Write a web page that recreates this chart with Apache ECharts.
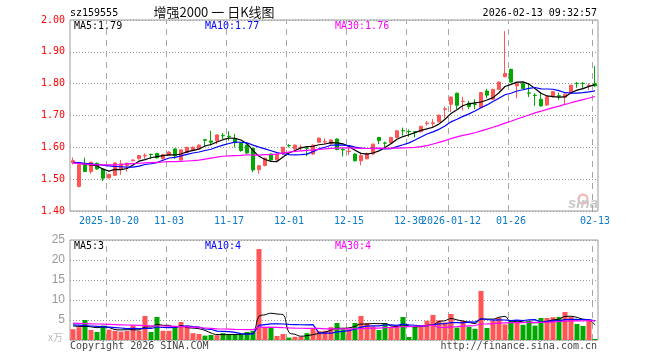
<!DOCTYPE html>
<html><head><meta charset="utf-8">
<script src="https://cdn.jsdelivr.net/npm/echarts@6/dist/echarts.min.js"></script>
<style>html,body{margin:0;padding:0;background:#fff}#c{width:660px;height:360px}</style>
</head><body><div id="c"></div>
<script>
const dates = ['2025-10-10','2025-10-13','2025-10-14','2025-10-15','2025-10-16','2025-10-17','2025-10-20','2025-10-21','2025-10-22','2025-10-23',
'2025-10-24','2025-10-27','2025-10-28','2025-10-29','2025-10-30','2025-10-31','2025-11-03','2025-11-04','2025-11-05','2025-11-06',
'2025-11-07','2025-11-10','2025-11-11','2025-11-12','2025-11-13','2025-11-14','2025-11-17','2025-11-18','2025-11-19','2025-11-20',
'2025-11-21','2025-11-24','2025-11-25','2025-11-26','2025-11-27','2025-11-28','2025-12-01','2025-12-02','2025-12-03','2025-12-04',
'2025-12-05','2025-12-08','2025-12-09','2025-12-10','2025-12-11','2025-12-12','2025-12-15','2025-12-16','2025-12-17','2025-12-18',
'2025-12-19','2025-12-22','2025-12-23','2025-12-24','2025-12-25','2025-12-26','2025-12-30','2025-12-31','2026-01-05','2026-01-06',
'2026-01-07','2026-01-08','2026-01-09','2026-01-12','2026-01-13','2026-01-14','2026-01-15','2026-01-16','2026-01-19','2026-01-20',
'2026-01-21','2026-01-22','2026-01-23','2026-01-26','2026-01-27','2026-01-28','2026-01-29','2026-01-30','2026-02-02','2026-02-03',
'2026-02-04','2026-02-05','2026-02-06','2026-02-09','2026-02-10','2026-02-11','2026-02-12','2026-02-13'];

const opens = [1.552,1.477,1.543,1.524,1.550,1.532,1.504,1.512,1.532,1.543,
1.558,1.564,1.573,1.578,1.581,1.564,1.575,1.595,1.560,1.584,
1.590,1.595,1.624,1.620,1.621,1.637,1.635,1.626,1.614,1.607,
1.597,1.530,1.543,1.579,1.560,1.579,1.606,1.595,1.599,1.598,
1.579,1.616,1.617,1.611,1.626,1.593,1.587,1.579,1.558,1.564,
1.579,1.631,1.614,1.614,1.631,1.653,1.650,1.649,1.649,1.675,
1.675,1.680,1.719,1.735,1.770,1.744,1.739,1.736,1.725,1.777,
1.751,1.782,1.822,1.845,1.793,1.800,1.771,1.764,1.751,1.733,
1.759,1.762,1.758,1.769,1.801,1.801,1.794,1.800];
const closes = [1.558,1.545,1.524,1.553,1.532,1.503,1.515,1.551,1.548,1.550,
1.560,1.574,1.575,1.577,1.567,1.577,1.585,1.574,1.592,1.600,
1.600,1.607,1.622,1.616,1.639,1.636,1.634,1.616,1.590,1.582,
1.529,1.542,1.566,1.560,1.579,1.600,1.605,1.607,1.601,1.597,
1.607,1.629,1.618,1.623,1.593,1.592,1.588,1.558,1.574,1.581,
1.610,1.621,1.613,1.631,1.652,1.652,1.649,1.648,1.666,1.676,
1.677,1.701,1.721,1.758,1.732,1.745,1.728,1.735,1.772,1.764,
1.782,1.805,1.832,1.805,1.801,1.785,1.770,1.763,1.730,1.759,
1.775,1.761,1.767,1.795,1.800,1.800,1.795,1.793];
const lows = [1.546,1.474,1.522,1.517,1.530,1.494,1.502,1.510,1.514,1.524,
1.556,1.562,1.564,1.564,1.565,1.562,1.573,1.564,1.558,1.582,
1.588,1.593,1.602,1.605,1.610,1.626,1.621,1.600,1.586,1.580,
1.522,1.517,1.540,1.557,1.558,1.577,1.600,1.593,1.590,1.572,
1.576,1.614,1.610,1.609,1.591,1.571,1.576,1.555,1.543,1.562,
1.577,1.610,1.600,1.612,1.629,1.637,1.633,1.631,1.647,1.668,
1.662,1.678,1.691,1.711,1.720,1.715,1.720,1.720,1.722,1.754,
1.749,1.780,1.820,1.803,1.754,1.783,1.758,1.730,1.728,1.730,
1.757,1.749,1.735,1.767,1.787,1.782,1.779,1.790];
const highs = [1.568,1.548,1.567,1.555,1.552,1.534,1.517,1.553,1.560,1.552,
1.563,1.576,1.581,1.580,1.582,1.579,1.588,1.597,1.594,1.602,
1.603,1.609,1.625,1.652,1.641,1.645,1.651,1.642,1.616,1.609,
1.599,1.545,1.568,1.581,1.581,1.602,1.610,1.609,1.608,1.600,
1.609,1.631,1.628,1.625,1.628,1.598,1.598,1.581,1.579,1.583,
1.612,1.633,1.618,1.633,1.654,1.662,1.656,1.651,1.668,1.683,
1.689,1.703,1.728,1.760,1.772,1.759,1.746,1.751,1.774,1.784,
1.784,1.807,1.965,1.847,1.803,1.802,1.800,1.770,1.774,1.761,
1.777,1.772,1.769,1.797,1.805,1.805,1.801,1.855];
// volume, 万手
const volumes = [2.7,3.2,5.0,2.5,2.0,3.6,2.6,2.3,2.1,2.25,
3.6,2.3,6.0,2.0,5.75,2.3,2.3,3.2,4.5,3.2,
1.7,1.5,1.1,1.25,1.2,1.7,1.5,1.3,1.3,2.0,
2.3,22.75,3.2,3.2,1.0,1.5,0.6,0.8,0.8,1.7,
2.8,2.25,2.3,3.2,4.25,2.7,2.7,4.25,6.0,4.25,
3.4,2.5,4.25,3.3,3.3,5.75,0.75,3.4,3.75,4.8,
6.25,4.9,4.4,6.5,3.1,4.8,3.3,2.8,12.25,3.0,
4.75,5.6,3.9,4.9,4.4,3.8,4.8,3.6,5.5,5.5,
5.7,5.75,7.0,5.75,4.0,3.5,5.0,0.25];

// MA values before a full window exists inside the visible range
const priceMa5Head = [1.552,1.550,1.546,1.545];
const priceMa10Head = [1.553,1.552,1.550,1.548,1.546,1.544,1.542,1.540,1.539];
const priceMa30Head = [1.551,1.549,1.547,1.546,1.545,1.545,1.545,1.545,1.546,1.548,
1.549,1.550,1.551,1.552,1.553,1.554,1.555,1.555,1.556,1.557,
1.558,1.560,1.563,1.566,1.569,1.572,1.573,1.574,1.575];
const volMa5Head = [3.5,3.4,3.4,3.3];
const volMa10Head = [3.8,3.7,3.6,3.5,3.4,3.3,3.2,3.1,3.0];
const volMa30Head = [4.2,4.15,4.1,4.05,4.0,3.95,3.9,3.85,3.8,3.75,
3.7,3.65,3.6,3.55,3.5,3.5,3.45,3.4,3.35,3.3,
3.2,3.1,3.0,2.9,2.8,2.75,2.7,2.65,2.62];

const tickDates = ['2025-10-20','2025-11-03','2025-11-17','2025-12-01','2025-12-15','2025-12-30','2026-01-12','2026-01-26','2026-02-13'];
const tickTexts = ['2025-10-20','11-03','11-17','12-01','12-15','12-30','2026-01-12','01-26','02-13'];

const priceTicks = {min:1.40, max:2.00, step:0.10};
const volTicks = {min:0, max:25, step:5};

const legendPrice = ['MA5:1.79','MA10:1.77','MA30:1.76'];
const legendVol = ['MA5:3','MA10:4','MA30:4'];

function rolling(vals, n, head){
  return vals.map((v,i)=>{
    if(i < n-1) return head[i];
    let s=0; for(let k=i-n+1;k<=i;k++) s+=vals[k];
    return +(s/n).toFixed(4);
  });
}

const RED='#ff5555', GREEN='#00a800', C5='#000000', C10='#0000ff', C30='#ff00ff';
const MONO='"DejaVu Sans Mono", monospace';

const kData = dates.map((d,i)=>[opens[i],closes[i],lows[i],highs[i]]);
const volData = volumes.map((v,i)=>({value:v,itemStyle:{color: closes[i]>=opens[i]?RED:GREEN}}));

const isTick = (idx)=>tickDates.indexOf(dates[idx])>=0;

// Dashed vertical guides: one line series per labelled day, on a hidden day-index value axis
// (day k's band starts at index k; the axis is offset half a pixel so 1px lines stay crisp)
function guideSeries(xAxisIndex, yAxisIndex, lo, hi){
  return tickDates.map(d=>{
    const k = dates.indexOf(d);
    return {type:'line', xAxisIndex, yAxisIndex, data:[[k, lo],[k, hi]],
      showSymbol:false, silent:true, z:1, animation:false,
      lineStyle:{color:'#a6a6a6', width:1, type:[6,5]}};
  });
}

const texts = [
  {type:'text', x:70, y:13, style:{text:'sz159555', font:'10px '+MONO, fill:'#000', verticalAlign:'middle'}},
  {type:'text', x:214, y:12, style:{text:'增强2000 一 日K线图', font:'13px "Noto Sans CJK SC"', fill:'#111', align:'center', verticalAlign:'middle'}},
  {type:'text', x:597, y:13, style:{text:'2026-02-13 09:32:57', font:'10px '+MONO, fill:'#000', align:'right', verticalAlign:'middle'}},
  {type:'text', x:74, y:26, style:{text:legendPrice[0], font:'10px '+MONO, fill:C5, verticalAlign:'middle'}},
  {type:'text', x:205, y:26, style:{text:legendPrice[1], font:'10px '+MONO, fill:C10, verticalAlign:'middle'}},
  {type:'text', x:335, y:26, style:{text:legendPrice[2], font:'10px '+MONO, fill:C30, verticalAlign:'middle'}},
  {type:'text', x:74, y:246, style:{text:legendVol[0], font:'10px '+MONO, fill:C5, verticalAlign:'middle'}},
  {type:'text', x:205, y:246, style:{text:legendVol[1], font:'10px '+MONO, fill:C10, verticalAlign:'middle'}},
  {type:'text', x:335, y:246, style:{text:legendVol[2], font:'10px '+MONO, fill:C30, verticalAlign:'middle'}},
  {type:'text', x:48, y:337, style:{text:'x万', font:'10px "Noto Sans CJK SC"', fill:'#bbbbbb', verticalAlign:'middle'}},
  {type:'text', x:70, y:346, style:{text:'Copyright 2026 SINA.COM', font:'10px '+MONO, fill:'#444', verticalAlign:'middle'}},
  {type:'text', x:597, y:346, style:{text:'http://finance.sina.com.cn', font:'10px '+MONO, fill:'#444', align:'right', verticalAlign:'middle'}},
  {type:'circle', shape:{cx:583, cy:199, r:4.5}, style:{fill:'none', stroke:'#f2b0b0', lineWidth:2}},
  {type:'text', x:568, y:204, style:{text:'sina', font:'italic bold 15px "Liberation Sans"', fill:'#c9c9c9', verticalAlign:'middle'}}
];

const nDays = dates.length;
const halfPx = 1/12; // half a pixel in day units (6px per day)

const chart = echarts.init(document.getElementById('c'), null, {renderer:'canvas'});
chart.setOption({
  animation:false,
  backgroundColor:'#fff',
  grid:[
    {left:70, top:20, width:528, height:191, show:true, borderColor:'#9a9a9a', borderWidth:1},
    {left:70, top:240, width:528, height:100, show:true, borderColor:'#9a9a9a', borderWidth:1}
  ],
  xAxis:[
    {type:'category', gridIndex:0, data:dates, boundaryGap:true,
     axisLine:{show:false}, axisTick:{show:false}, splitLine:{show:false},
     axisLabel:{show:true, margin:5, color:'#0a7bc6', fontFamily:MONO, fontSize:10,
       interval:isTick,
       formatter:(val)=>{const k=tickDates.indexOf(val);return k>=0?tickTexts[k]:'';}}},
    {type:'category', gridIndex:1, data:dates, boundaryGap:true,
     axisLine:{show:false}, axisTick:{show:false}, splitLine:{show:false}, axisLabel:{show:false}},
    {type:'value', gridIndex:0, min:-halfPx, max:nDays-halfPx, show:false},
    {type:'value', gridIndex:1, min:-halfPx, max:nDays-halfPx, show:false}
  ],
  yAxis:[
    {type:'value', gridIndex:0, min:priceTicks.min, max:priceTicks.max, interval:priceTicks.step,
     axisLine:{show:false}, axisTick:{show:false},
     axisLabel:{color:'#ff0000', fontFamily:MONO, fontSize:10, margin:5, formatter:v=>v.toFixed(2)},
     splitLine:{show:true, lineStyle:{type:[1,2], color:'#999999', width:1}}},
    {type:'value', gridIndex:1, min:volTicks.min, max:volTicks.max, interval:volTicks.step,
     axisLine:{show:false}, axisTick:{show:false},
     axisLabel:{color:'#9a9a9a', fontFamily:'"Liberation Sans", sans-serif', fontSize:12, margin:5, formatter:v=>v===0?'':String(v)},
     splitLine:{show:true, lineStyle:{type:[1,2], color:'#999999', width:1}}}
  ],
  series:[].concat(
    guideSeries(2, 0, priceTicks.min, priceTicks.max),
    guideSeries(3, 1, volTicks.min, volTicks.max),
    [
    {type:'candlestick', xAxisIndex:0, yAxisIndex:0, data:kData, barWidth:4, z:3,
     itemStyle:{color:RED, color0:GREEN, borderColor:RED, borderColor0:GREEN, borderWidth:1}},
    {type:'line', xAxisIndex:0, yAxisIndex:0, data:rolling(closes,5,priceMa5Head), showSymbol:false, lineStyle:{color:C5,width:1.2}, z:5},
    {type:'line', xAxisIndex:0, yAxisIndex:0, data:rolling(closes,10,priceMa10Head), showSymbol:false, lineStyle:{color:C10,width:1.2}, z:5},
    {type:'line', xAxisIndex:0, yAxisIndex:0, data:rolling(closes,30,priceMa30Head), showSymbol:false, lineStyle:{color:C30,width:1.2}, z:5},
    {type:'bar', xAxisIndex:1, yAxisIndex:1, data:volData, barWidth:5, z:3},
    {type:'line', xAxisIndex:1, yAxisIndex:1, data:rolling(volumes,5,volMa5Head), showSymbol:false, smooth:0.4, lineStyle:{color:C5,width:1}, z:5},
    {type:'line', xAxisIndex:1, yAxisIndex:1, data:rolling(volumes,10,volMa10Head), showSymbol:false, lineStyle:{color:C10,width:1.2}, z:5},
    {type:'line', xAxisIndex:1, yAxisIndex:1, data:rolling(volumes,30,volMa30Head), showSymbol:false, lineStyle:{color:C30,width:1.2}, z:5}
    ]),
  graphic: texts
});
</script></body></html>
